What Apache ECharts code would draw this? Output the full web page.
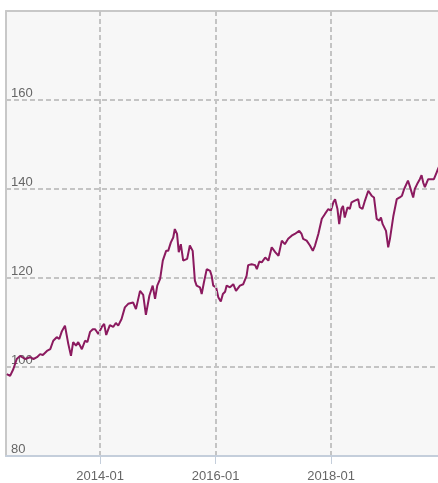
<!DOCTYPE html>
<html>
<head>
<meta charset="utf-8">
<script src="https://cdn.jsdelivr.net/npm/echarts@6/dist/echarts.min.js"></script>
<style>html,body{margin:0;padding:0;background:#fff}#c{width:438px;height:483px}</style>
</head>
<body>
<div id="c"></div>
<script>
var dates = [
'2012-05-20','2012-06-10','2012-06-30','2012-07-22','2012-08-12','2012-09-13','2012-10-14','2012-11-05','2012-11-27','2012-12-17',
'2013-01-03','2013-01-29','2013-02-19','2013-03-10','2013-04-01','2013-04-17','2013-05-02','2013-05-23','2013-06-13','2013-06-30',
'2013-07-14','2013-08-01','2013-08-15','2013-09-07','2013-09-27','2013-10-12','2013-10-29','2013-11-15','2013-11-30','2013-12-20',
'2014-01-11','2014-01-26','2014-02-08','2014-03-03','2014-03-24','2014-04-10','2014-04-25','2014-05-16','2014-06-06','2014-06-27',
'2014-07-28','2014-08-15','2014-09-10','2014-09-30','2014-10-17','2014-11-08','2014-11-29','2014-12-14','2014-12-28','2015-01-15',
'2015-02-01','2015-02-22','2015-03-07','2015-03-24','2015-04-08','2015-04-18','2015-05-02','2015-05-13','2015-05-26','2015-06-10',
'2015-07-05','2015-07-22','2015-08-09','2015-08-23','2015-09-03','2015-09-24','2015-10-05','2015-10-19','2015-11-06','2015-11-27',
'2015-12-07','2015-12-17','2016-01-04','2016-01-18','2016-02-03','2016-02-16','2016-03-01','2016-03-11','2016-04-01','2016-04-22',
'2016-05-09','2016-06-03','2016-06-24','2016-07-15','2016-07-25','2016-08-16','2016-09-07','2016-09-18','2016-10-04','2016-10-19',
'2016-11-10','2016-11-30','2016-12-21','2017-01-12','2017-02-02','2017-02-23','2017-03-14','2017-04-04','2017-04-26','2017-05-16',
'2017-05-27','2017-06-13','2017-06-28','2017-07-08','2017-07-30','2017-08-20','2017-09-07','2017-09-21','2017-10-12','2017-11-03',
'2017-11-23','2017-12-14','2017-12-30','2018-01-15','2018-01-26','2018-02-10','2018-02-21','2018-03-07','2018-03-17','2018-03-28',
'2018-04-15','2018-04-29','2018-05-10','2018-05-31','2018-06-21','2018-07-01','2018-07-18','2018-08-03','2018-08-24','2018-09-14',
'2018-09-29','2018-10-16','2018-11-02','2018-11-12','2018-11-23','2018-12-14','2018-12-28','2019-01-08','2019-01-30','2019-02-20',
'2019-03-11','2019-03-25','2019-04-08','2019-04-18','2019-05-02','2019-05-13','2019-06-04','2019-06-14','2019-06-29','2019-07-16',
'2019-07-27','2019-08-06','2019-08-17','2019-09-07','2019-09-29','2019-10-13','2019-10-30','2019-11-08','2019-11-20'
];
var values = [
98.4,98.0,99.5,101.8,102.5,101.8,102.2,101.8,102.2,102.9,
102.7,103.6,104.0,105.9,106.7,106.3,107.9,109.3,105.2,102.5,
105.6,104.8,105.6,104.0,105.9,105.6,107.9,108.5,108.5,107.4,
109.0,109.7,107.2,109.4,109.0,109.9,109.3,110.8,113.4,114.2,
114.5,113.0,117.1,116.2,111.7,116.0,118.3,115.3,118.3,119.8,
123.9,126.1,126.1,128.0,129.1,131.0,129.9,125.8,127.6,123.9,
124.3,127.3,126.1,119.4,118.3,117.9,116.4,119.0,122.0,121.6,
120.5,118.3,117.9,115.7,114.7,116.4,116.9,118.3,117.9,118.6,
117.1,118.3,118.6,120.5,122.9,123.1,122.9,122.0,123.7,123.5,
124.6,123.9,126.9,125.8,125.0,128.4,127.6,128.8,129.5,129.9,
129.5,130.6,129.9,128.8,128.4,127.3,126.1,127.3,129.9,133.3,
134.4,135.5,135.1,137.0,137.7,135.5,132.1,135.5,136.2,133.6,
135.9,135.5,137.0,137.4,137.7,135.9,135.5,137.4,139.6,138.5,
138.1,133.3,132.9,133.6,132.1,130.6,126.9,128.8,134.0,137.7,
138.1,138.5,140.0,140.4,141.9,140.7,138.1,140.0,141.1,142.2,
143.1,141.5,140.4,142.2,142.2,142.2,143.7,144.5,145.5
];
var xTicks = ['2014-01-01','2016-01-01','2018-01-01'];
var xMin = '2012-05-15', xMax = '2019-11-08';
var yMin = 80, yMax = 180, yStep = 20;

function ts(s) { return Date.UTC(+s.slice(0, 4), +s.slice(5, 7) - 1, +s.slice(8, 10)); }
var data = dates.map(function (d, i) { return [ts(d), values[i]]; });
var tickVals = xTicks.map(ts);
var font = 'Liberation Sans, Arial, Helvetica, sans-serif';
var borderStyle = { color: '#c8c8c8', width: 2 };
var chart = echarts.init(document.getElementById('c'));
chart.setOption({
  animation: false,
  backgroundColor: '#ffffff',
  grid: {
    left: 6, right: 0, top: 11, bottom: 26,
    show: true, backgroundColor: '#f7f7f7', borderWidth: 0
  },
  xAxis: [{
    type: 'value', min: ts(xMin), max: ts(xMax), scale: true,
    axisLine: { show: true, onZero: false, lineStyle: { color: '#c4cedb', width: 2 } },
    axisTick: {
      show: true, length: 8, lineStyle: { color: '#c4cedb', width: 1 },
      customValues: tickVals
    },
    axisLabel: {
      color: '#666', fontSize: 13, fontFamily: font, margin: 14,
      customValues: tickVals,
      formatter: function (v) {
        var d = new Date(v);
        var m = d.getUTCMonth() + 1;
        return d.getUTCFullYear() + '-' + (m < 10 ? '0' + m : m);
      }
    },
    splitLine: { show: true, lineStyle: { color: '#c4c4c4', width: 2, type: [5, 3] } },
    z: 4
  }, {
    type: 'value', position: 'top', min: ts(xMin), max: ts(xMax), scale: true,
    axisLine: { show: true, onZero: false, lineStyle: borderStyle },
    axisTick: { show: false }, axisLabel: { show: false }, splitLine: { show: false }
  }],
  yAxis: {
    type: 'value', min: yMin, max: yMax, interval: yStep,
    axisLine: { show: true, onZero: false, lineStyle: borderStyle },
    axisTick: { show: false },
    axisLabel: {
      inside: true, margin: 5, color: '#666', fontSize: 13, fontFamily: font,
      verticalAlign: 'bottom', showMaxLabel: false
    },
    splitLine: { show: true, lineStyle: { color: '#c4c4c4', width: 2, type: [5, 3] } }
  },
  series: [{
    type: 'line', data: data, showSymbol: false, symbol: 'none',
    lineStyle: { color: '#8b1a5f', width: 2 }, z: 3
  }]
});
</script>
</body>
</html>
